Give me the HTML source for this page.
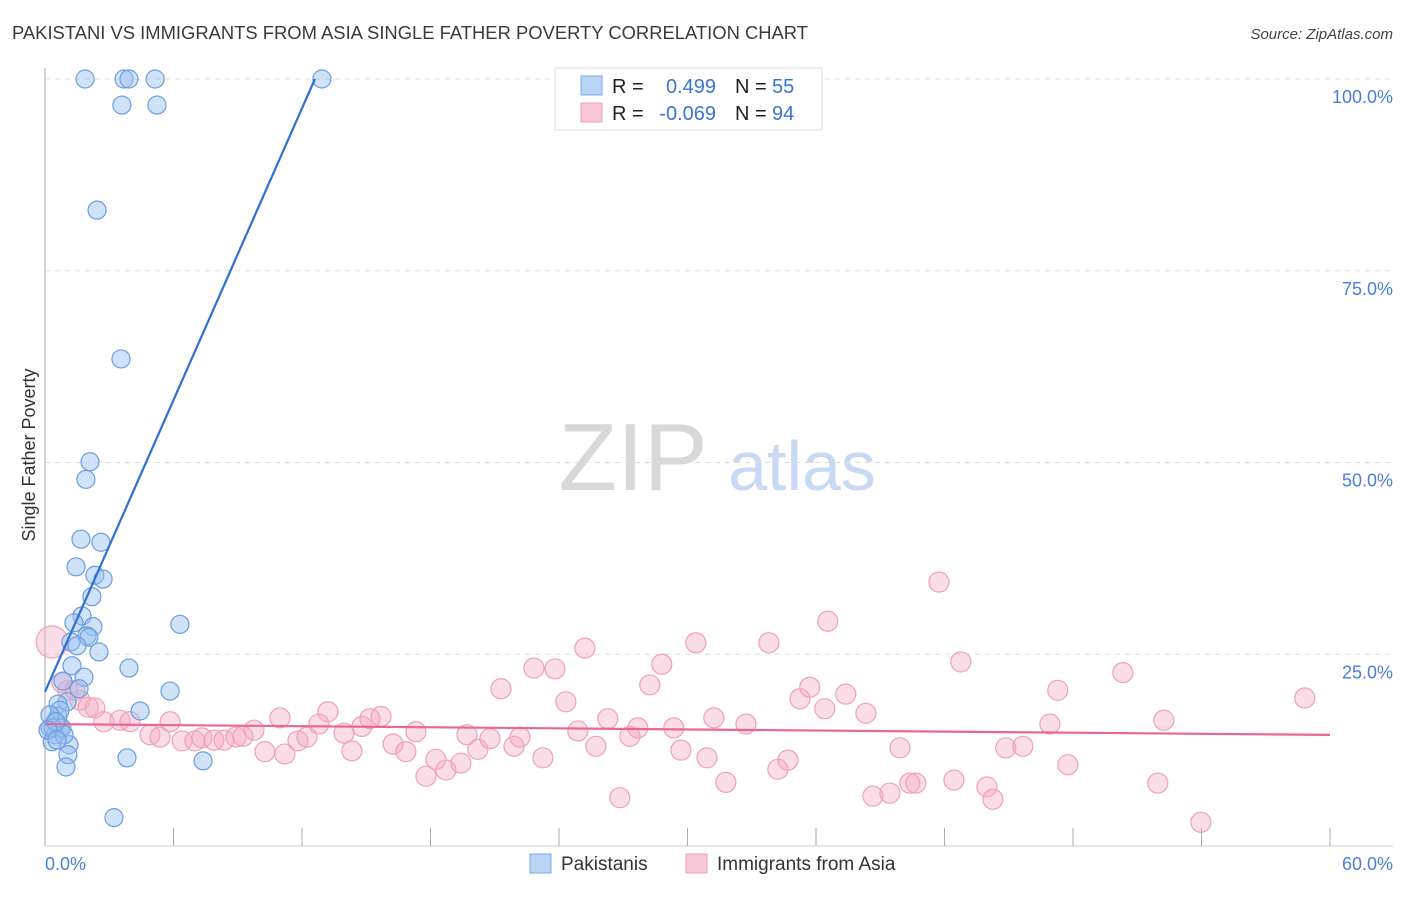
<!DOCTYPE html>
<html><head><meta charset="utf-8"><style>
body{margin:0;background:#fff;font-family:"Liberation Sans",sans-serif;}
svg text{font-family:"Liberation Sans",sans-serif;}
</style></head><body>
<svg id="chart" width="1406" height="892">
<text x="12" y="39" font-size="18" fill="#3a3a3a" textLength="796" lengthAdjust="spacingAndGlyphs">PAKISTANI VS IMMIGRANTS FROM ASIA SINGLE FATHER POVERTY CORRELATION CHART</text>
<text x="1393" y="39" font-size="15" fill="#444" font-style="italic" text-anchor="end">Source: ZipAtlas.com</text>
<g>
<text x="633" y="490" font-size="96" fill="#d8d8d8" font-family="Liberation Serif,serif" text-anchor="middle">ZIP</text>
<text x="802" y="490" font-size="70" fill="#c8daf3" text-anchor="middle">atlas</text>
</g>
<g id="grid"></g><g id="axes"></g>
<g id="pink"></g><g id="blue"></g><g id="lines"></g>
<text x="35" y="455" font-size="18" fill="#333" transform="rotate(-90 35 455)" text-anchor="middle">Single Father Poverty</text>
<text x="45" y="870" font-size="18" fill="#4a7fd8">0.0%</text>
<text x="1393" y="870" font-size="18" fill="#4a7fd8" text-anchor="end">60.0%</text>
<g>
<rect x="555" y="68" width="267" height="62" fill="#fff" stroke="#ddd"/>
<rect x="581" y="76" width="21" height="19" fill="#b9d3f5" stroke="#7aaae8"/>
<rect x="581" y="103" width="21" height="19" fill="#f9c6d6" stroke="#eea0ba"/>
<text x="612" y="93" font-size="20" fill="#222">R =</text>
<text x="716" y="93" font-size="20" fill="#3a75d4" text-anchor="end">0.499</text>
<text x="735" y="93" font-size="20" fill="#222">N =</text><text x="772" y="93" font-size="20" fill="#3a75d4">55</text>
<text x="612" y="120" font-size="20" fill="#222">R =</text>
<text x="716" y="120" font-size="20" fill="#3a75d4" text-anchor="end">-0.069</text>
<text x="735" y="120" font-size="20" fill="#222">N =</text><text x="772" y="120" font-size="20" fill="#3a75d4">94</text>
</g>
<g>
<rect x="530" y="854" width="21" height="19" fill="#b9d3f5" stroke="#7aaae8"/>
<text x="561" y="870" font-size="19" fill="#333">Pakistanis</text>
<rect x="686" y="854" width="21" height="19" fill="#f9c6d6" stroke="#eea0ba"/>
<text x="717" y="870" font-size="19" fill="#333">Immigrants from Asia</text>
</g>
</svg>
<script>
const yTicks=[25,50,75,100];
const yTickLabels=["25.0%","50.0%","75.0%","100.0%"];
const xTicks=[0,6,12,18,24,30,36,42,48,54,60];
const blueX=[1.87,3.69,3.92,5.14,12.93,3.59,5.23,2.43,3.55,2.10,1.91,1.68,2.61,1.45,2.33,2.71,2.19,1.73,6.30,1.35,2.24,1.96,2.05,1.21,1.49,2.52,3.92,1.26,1.82,0.84,1.59,5.84,1.03,4.44,0.61,0.61,0.47,0.23,0.70,0.47,0.79,0.33,1.12,1.07,0.98,3.83,7.38,3.22,0.70,0.23,0.37,0.89,0.51,0.14,0.56];
const blueY=[100,100,100,100,100,96.6,96.6,82.9,63.5,50.1,47.8,40.0,39.6,36.4,35.3,34.8,32.5,30.0,28.9,29.1,28.6,27.4,27.2,26.6,26.1,25.3,23.2,23.5,22.0,21.5,20.5,20.2,18.8,17.6,18.5,16.9,16.2,15.4,15.4,14.5,15.4,13.6,13.2,11.9,10.3,11.5,11.1,3.7,17.7,17.1,15.4,14.5,16.2,15.1,13.8];
const pinkX=[0.33,0.79,1.07,1.63,2.33,2.75,3.50,3.97,4.90,5.37,5.84,6.40,7.00,7.33,7.89,8.36,8.92,9.24,9.76,10.27,10.97,11.20,11.81,12.23,12.79,13.21,13.96,14.33,14.80,15.17,15.69,16.25,16.85,17.32,17.79,18.25,18.72,19.42,19.70,20.21,20.78,21.29,21.90,22.18,22.83,23.25,23.81,24.32,24.88,25.21,25.72,26.28,26.84,27.31,27.68,28.24,28.80,29.36,29.69,30.39,30.91,31.23,31.79,32.73,33.80,34.22,34.69,35.25,35.71,36.41,36.55,37.39,38.33,38.66,39.45,39.92,40.38,40.66,41.74,42.44,42.76,43.98,44.26,44.86,45.66,46.92,47.29,47.76,50.33,51.96,52.24,53.97,58.82,2.01,1.40];
const pinkY=[26.6,21.3,20.3,19.0,18.0,16.2,16.4,16.2,14.5,14.2,16.2,13.7,13.7,14.1,13.8,13.8,14.2,14.3,15.1,12.3,16.7,12.0,13.7,14.2,15.9,17.5,14.7,12.4,15.6,16.6,16.9,13.3,12.3,14.9,9.1,11.3,9.9,10.8,14.5,12.6,14.0,20.5,13.0,14.2,23.2,11.5,23.1,18.8,15.0,25.8,13.0,16.6,6.3,14.3,15.4,21.0,23.7,15.4,12.5,26.5,11.5,16.7,8.3,15.9,26.5,10.0,11.2,19.2,20.7,17.9,29.3,19.8,17.3,6.5,6.9,12.8,8.2,8.2,34.4,8.6,24.0,7.7,6.1,12.8,13.0,15.9,20.3,10.6,22.6,8.2,16.4,3.1,19.3,18.1,20.3];
const blueTrend=[20.1,6.34];  // intercept, slope
const pinkTrend=[15.9,-0.0235];
const X0=45,X1=1330,Y0=846,Y100=79;
const sx=v=>X0+(X1-X0)*v/60, sy=v=>Y0-(Y0-Y100)*v/100;
const NS="http://www.w3.org/2000/svg";
function mk(parent,tag,attrs){const e=document.createElementNS(NS,tag);for(const k in attrs)e.setAttribute(k,attrs[k]);document.getElementById(parent).appendChild(e);return e;}
yTicks.forEach((t,i)=>{
 const g=mk('grid','line',{x1:X0,x2:1393,y1:sy(t),y2:sy(t),stroke:'#ddd','stroke-dasharray':'5,5'});
 
 
 const l=mk('grid','text',{x:1393,y:sy(t)+24,'font-size':18,fill:'#4a7fd8','text-anchor':'end'});
 l.textContent=yTickLabels[i];
 
 
});
const ax=mk('axes','line',{x1:X0,x2:X0,y1:68,y2:Y0,stroke:'#aaa'});


const bx=mk('axes','line',{x1:X0,x2:1393,y1:Y0,y2:Y0,stroke:'#ccc'});


xTicks.forEach(t=>{const e=mk('axes','line',{x1:sx(t),x2:sx(t),y1:828,y2:Y0,stroke:'#aaa'});
 
 });
pinkX.forEach((x,i)=>{const c=mk('pink','circle',{cx:sx(x),cy:sy(pinkY[i]),r:i===0?16:10,fill:'rgba(246,170,196,0.4)',stroke:'#eea0ba','stroke-width':1.2});
 
 });
blueX.forEach((x,i)=>{const c=mk('blue','circle',{cx:sx(x),cy:sy(blueY[i]),r:9,fill:'rgba(150,190,240,0.45)',stroke:'#6a9de0','stroke-width':1.2});
 
 });
const bxEnd=(100-blueTrend[0])/blueTrend[1];
const bl=mk('lines','line',{x1:sx(0),y1:sy(blueTrend[0]),x2:sx(bxEnd),y2:sy(100),stroke:'#2f6fd6','stroke-width':2.2});


const pl=mk('lines','line',{x1:sx(0),y1:sy(pinkTrend[0]),x2:sx(60),y2:sy(pinkTrend[0]+60*pinkTrend[1]),stroke:'#e8679a','stroke-width':2.2});


</script>
</body></html>
